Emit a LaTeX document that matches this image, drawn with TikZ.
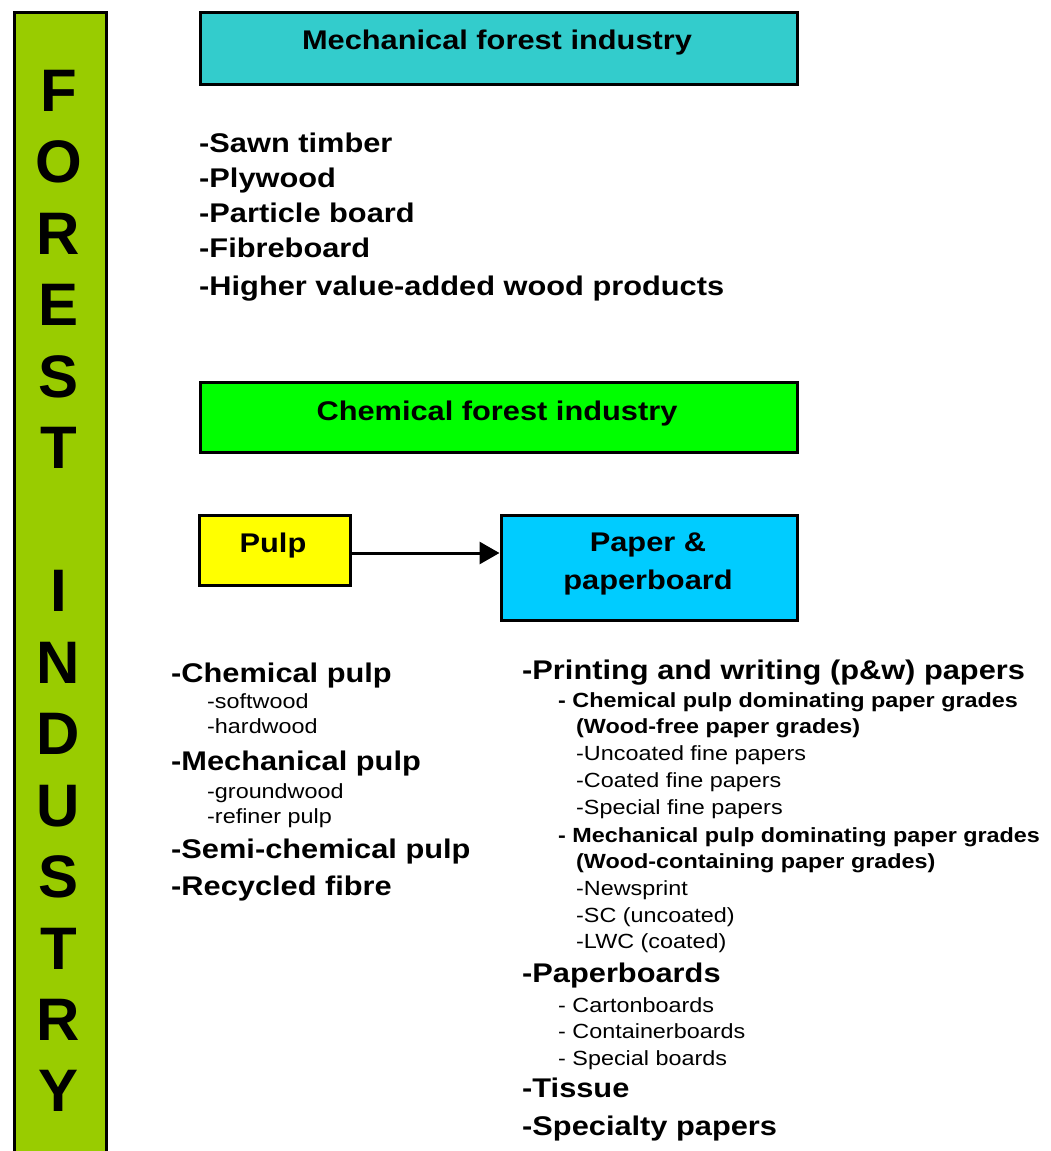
\documentclass[tikz,border=0pt]{standalone}
\usepackage{fontspec}
\setmainfont{Liberation Sans}
\usepackage{graphicx}
\usetikzlibrary{arrows.meta}
\definecolor{barGreen}{HTML}{99CC00}
\definecolor{mechCyan}{HTML}{33CCCC}
\definecolor{chemGreen}{HTML}{00FF00}
\definecolor{pulpYellow}{HTML}{FFFF00}
\definecolor{paperBlue}{HTML}{00CCFF}
\newcommand{\hs}[1]{\scalebox{1.14}[1]{#1}}
\begin{document}
\begin{tikzpicture}[x=1pt,y=-1pt,
  box/.style={draw=black, line width=3pt, inner sep=0pt, anchor=north west},
  title/.style={font=\fontsize{27}{32}\selectfont\bfseries, inner sep=0pt, anchor=base},
  big/.style={font=\fontsize{27}{32}\selectfont\bfseries, inner sep=0pt, anchor=base west},
  sm/.style={font=\fontsize{20.5}{24}\selectfont, inner sep=0pt, anchor=base west},
  smb/.style={font=\fontsize{20.5}{24}\selectfont\bfseries, inner sep=0pt, anchor=base west},
  letter/.style={font=\fontsize{60}{60}\selectfont\bfseries, inner sep=0pt, anchor=base},
  flow/.style={line width=3pt, -{Triangle[length=20pt,width=22pt]}}]
\useasboundingbox (0,0) rectangle (1050,1151);
\clip (0,0) rectangle (1050,1151);
\fill[white] (0,0) rectangle (1050,1151);

% vertical bar
\node[box, fill=barGreen, minimum width=92pt, minimum height=1200pt] (bar) at (12.5,10.5) {};
\foreach \l/\i in {F/0,O/1,R/2,E/3,S/4,T/5,I/7,N/8,D/9,U/10,S/11,T/12,R/13,Y/14}
  \node[letter] (L\i) at (58.5, 111.5+71.46*\i) {\l};

% mechanical
\node[box, fill=mechCyan, minimum width=597pt, minimum height=72pt] (mech) at (198.5,10.5) {};
\node[title] (mechT) at (497,49.5) {\hs{Mechanical forest industry}};
\node[big] (m1) at (199,152) {\hs{-Sawn timber}};
\node[big] (m2) at (199,187) {\hs{-Plywood}};
\node[big] (m3) at (199,222) {\hs{-Particle board}};
\node[big] (m4) at (199,257) {\hs{-Fibreboard}};
\node[big] (m5) at (199,295) {\hs{-Higher value-added wood products}};

% chemical
\node[box, fill=chemGreen, minimum width=597pt, minimum height=70pt] (chem) at (198.5,380.5) {};
\node[title] (chemT) at (497,420) {\hs{Chemical forest industry}};

\node[box, fill=pulpYellow, minimum width=151pt, minimum height=70pt] (pulp) at (197.5,513.5) {};
\node[title] (pulpT) at (273,552) {\hs{Pulp}};
\node[box, fill=paperBlue, minimum width=296pt, minimum height=105pt] (paper) at (499.5,513.5) {};
\node[title] (paperT1) at (648,551) {\hs{Paper \&}};
\node[title] (paperT2) at (648,589) {\hs{paperboard}};
\draw[flow] ([yshift=-3pt]pulp.east) -- ([yshift=-3pt]pulp.east -| paper.west);

% pulp list
\node[big] (p1) at (171,682) {\hs{-Chemical pulp}};
\node[sm]  (p1a) at (207,708) {\hs{-softwood}};
\node[sm]  (p1b) at (207,733) {\hs{-hardwood}};
\node[big] (p2) at (171,770) {\hs{-Mechanical pulp}};
\node[sm]  (p2a) at (207,798) {\hs{-groundwood}};
\node[sm]  (p2b) at (207,823) {\hs{-refiner pulp}};
\node[big] (p3) at (171,858) {\hs{-Semi-chemical pulp}};
\node[big] (p4) at (171,895) {\hs{-Recycled fibre}};

% paper list
\node[big] (q1) at (522,679) {\hs{-Printing and writing (p\&w) papers}};
\node[smb] (q1a) at (558,707) {\hs{- Chemical pulp dominating paper grades}};
\node[smb] (q1b) at (576,733) {\hs{(Wood-free paper grades)}};
\node[sm]  (q1c) at (576,760) {\hs{-Uncoated fine papers}};
\node[sm]  (q1d) at (576,787) {\hs{-Coated fine papers}};
\node[sm]  (q1e) at (576,814) {\hs{-Special fine papers}};
\node[smb] (q1f) at (558,842) {\hs{- Mechanical pulp dominating paper grades}};
\node[smb] (q1g) at (576,868) {\hs{(Wood-containing paper grades)}};
\node[sm]  (q1h) at (576,895) {\hs{-Newsprint}};
\node[sm]  (q1i) at (576,922) {\hs{-SC (uncoated)}};
\node[sm]  (q1j) at (576,948) {\hs{-LWC (coated)}};
\node[big] (q2) at (522,982) {\hs{-Paperboards}};
\node[sm]  (q2a) at (558,1012) {\hs{- Cartonboards}};
\node[sm]  (q2b) at (558,1038) {\hs{- Containerboards}};
\node[sm]  (q2c) at (558,1065) {\hs{- Special boards}};
\node[big] (q3) at (522,1097) {\hs{-Tissue}};
\node[big] (q4) at (522,1135) {\hs{-Specialty papers}};
\end{tikzpicture}
\end{document}
